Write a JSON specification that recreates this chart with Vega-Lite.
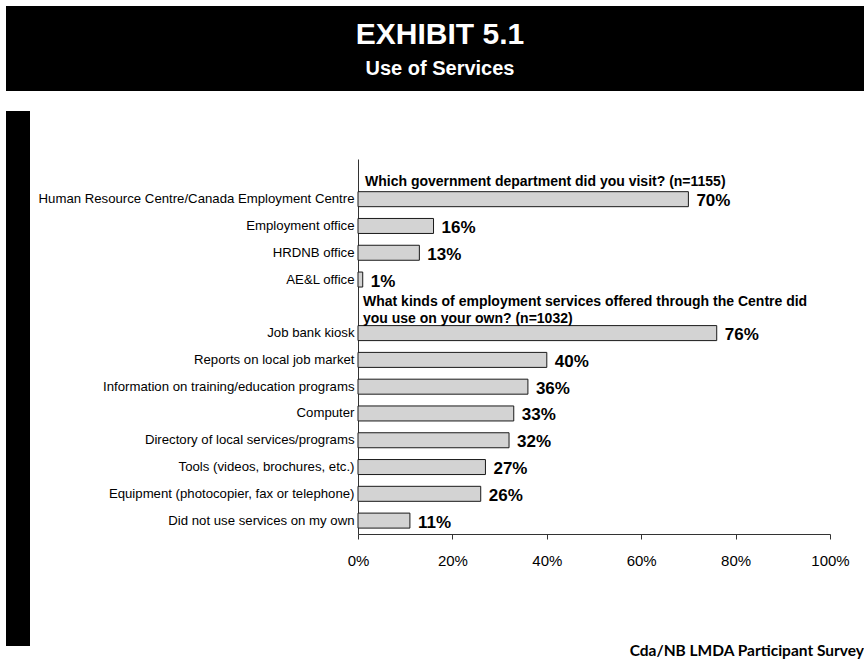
{
  "$schema": "https://vega.github.io/schema/vega-lite/v6.json",
  "background": "white",
  "padding": {"left": 6, "top": 6, "right": 0, "bottom": 0},
  "config": {"view": {"stroke": null}, "font": "Liberation Sans"},
  "title": {"text": "Cda/NB LMDA Participant Survey", "orient": "bottom", "anchor": "end", "font": "Lato", "fontSize": 15.5, "fontWeight": "bold", "color": "black", "offset": -2},
  "spacing": 20,
  "vconcat": [
    {
      "width": 858,
      "height": 85,
      "view": {"fill": "black", "stroke": null},
      "data": {"values": [{"line": "EXHIBIT 5.1"}, {"line": "Use of Services"}]},
      "encoding": {
        "y": {"field": "line", "type": "nominal", "axis": null,
              "scale": {"type": "point", "domain": ["EXHIBIT 5.1", "Use of Services"], "padding": 0.75}},
        "text": {"field": "line", "type": "nominal"}
      },
      "layer": [
        {"transform": [{"filter": "datum.line == 'EXHIBIT 5.1'"}],
         "mark": {"type": "text", "color": "white", "font": "Liberation Sans", "fontWeight": "bold", "fontSize": 30, "dy": 3, "dx": 5}},
        {"transform": [{"filter": "datum.line == 'Use of Services'"}],
         "mark": {"type": "text", "color": "white", "font": "Liberation Sans", "fontWeight": "bold", "fontSize": 20, "dy": 3, "dx": 5}}
      ]
    },
    {
      "spacing": 8,
      "hconcat": [
        {
          "width": 24,
          "height": 535,
          "data": {"values": [{}]},
          "mark": {"type": "rect", "color": "black"},
          "encoding": {}
        },
        {
          "width": 472,
          "height": 423,
          "data": {"values": [
            {"key": "Q1", "heading": "Which government department did you visit? (n=1155)"},
            {"key": "Human Resource Centre/Canada Employment Centre", "pct": 0.70},
            {"key": "Employment office", "pct": 0.16},
            {"key": "HRDNB office", "pct": 0.13},
            {"key": "AE&L office", "pct": 0.01},
            {"key": "Q2", "heading": "What kinds of employment services offered through the Centre did\nyou use on your own? (n=1032)"},
            {"key": "Job bank kiosk", "pct": 0.76},
            {"key": "Reports on local job market", "pct": 0.40},
            {"key": "Information on training/education programs", "pct": 0.36},
            {"key": "Computer", "pct": 0.33},
            {"key": "Directory of local services/programs", "pct": 0.32},
            {"key": "Tools (videos, brochures, etc.)", "pct": 0.27},
            {"key": "Equipment (photocopier, fax or telephone)", "pct": 0.26},
            {"key": "Did not use services on my own", "pct": 0.11}
          ]},
          "encoding": {
            "y": {
              "field": "key", "type": "nominal",
              "scale": {
                "domain": ["Q1", "Human Resource Centre/Canada Employment Centre", "Employment office", "HRDNB office", "AE&L office", "Q2", "Job bank kiosk", "Reports on local job market", "Information on training/education programs", "Computer", "Directory of local services/programs", "Tools (videos, brochures, etc.)", "Equipment (photocopier, fax or telephone)", "Did not use services on my own"],
                "range": [48, 423], "paddingInner": 0.44, "paddingOuter": 0.22
              },
              "axis": {"title": null, "ticks": false, "labelPadding": 4, "labelFontSize": 13.2, "labelColor": "black", "labelLimit": 400, "domainColor": "#333333",
                       "labelExpr": "datum.value == 'Q1' || datum.value == 'Q2' ? '' : datum.value"}
            }
          },
          "layer": [
            {
              "mark": {"type": "bar", "fill": "#d3d3d3", "stroke": "#1a1a1a", "strokeWidth": 1},
              "encoding": {
                "x": {"field": "pct", "type": "quantitative", "scale": {"domain": [0, 1]},
                      "axis": {"title": null, "values": [0, 0.2, 0.4, 0.6, 0.8, 1], "format": ".0%", "grid": false, "tickSize": 5, "labelFontSize": 15, "labelPadding": 14, "labelColor": "black", "domainColor": "#333333", "tickColor": "#333333", "labelFlush": false}}
              }
            },
            {
              "mark": {"type": "text", "align": "left", "baseline": "middle", "dx": 8, "dy": 2, "fontSize": 17, "fontWeight": "bold", "color": "black"},
              "encoding": {
                "x": {"field": "pct", "type": "quantitative"},
                "text": {"field": "pct", "type": "quantitative", "format": ".0%"}
              }
            },
            {
              "transform": [{"filter": "datum.key == 'Q1'"}],
              "mark": {"type": "text", "align": "left", "baseline": "bottom", "dx": 7, "dy": 9, "fontSize": 14, "fontWeight": "bold", "color": "black"},
              "encoding": {
                "x": {"datum": 0},
                "y": {"field": "key", "type": "nominal", "bandPosition": 1},
                "text": {"field": "heading", "type": "nominal"}
              }
            },
            {
              "transform": [{"filter": "datum.key == 'Q2'"}],
              "mark": {"type": "text", "align": "left", "baseline": "bottom", "dx": 5, "dy": -5, "fontSize": 14, "fontWeight": "bold", "lineBreak": "\n", "lineHeight": 17, "color": "black"},
              "encoding": {
                "x": {"datum": 0},
                "y": {"field": "key", "type": "nominal", "bandPosition": 1},
                "text": {"field": "heading", "type": "nominal"}
              }
            }
          ]
        }
      ]
    }
  ]
}
